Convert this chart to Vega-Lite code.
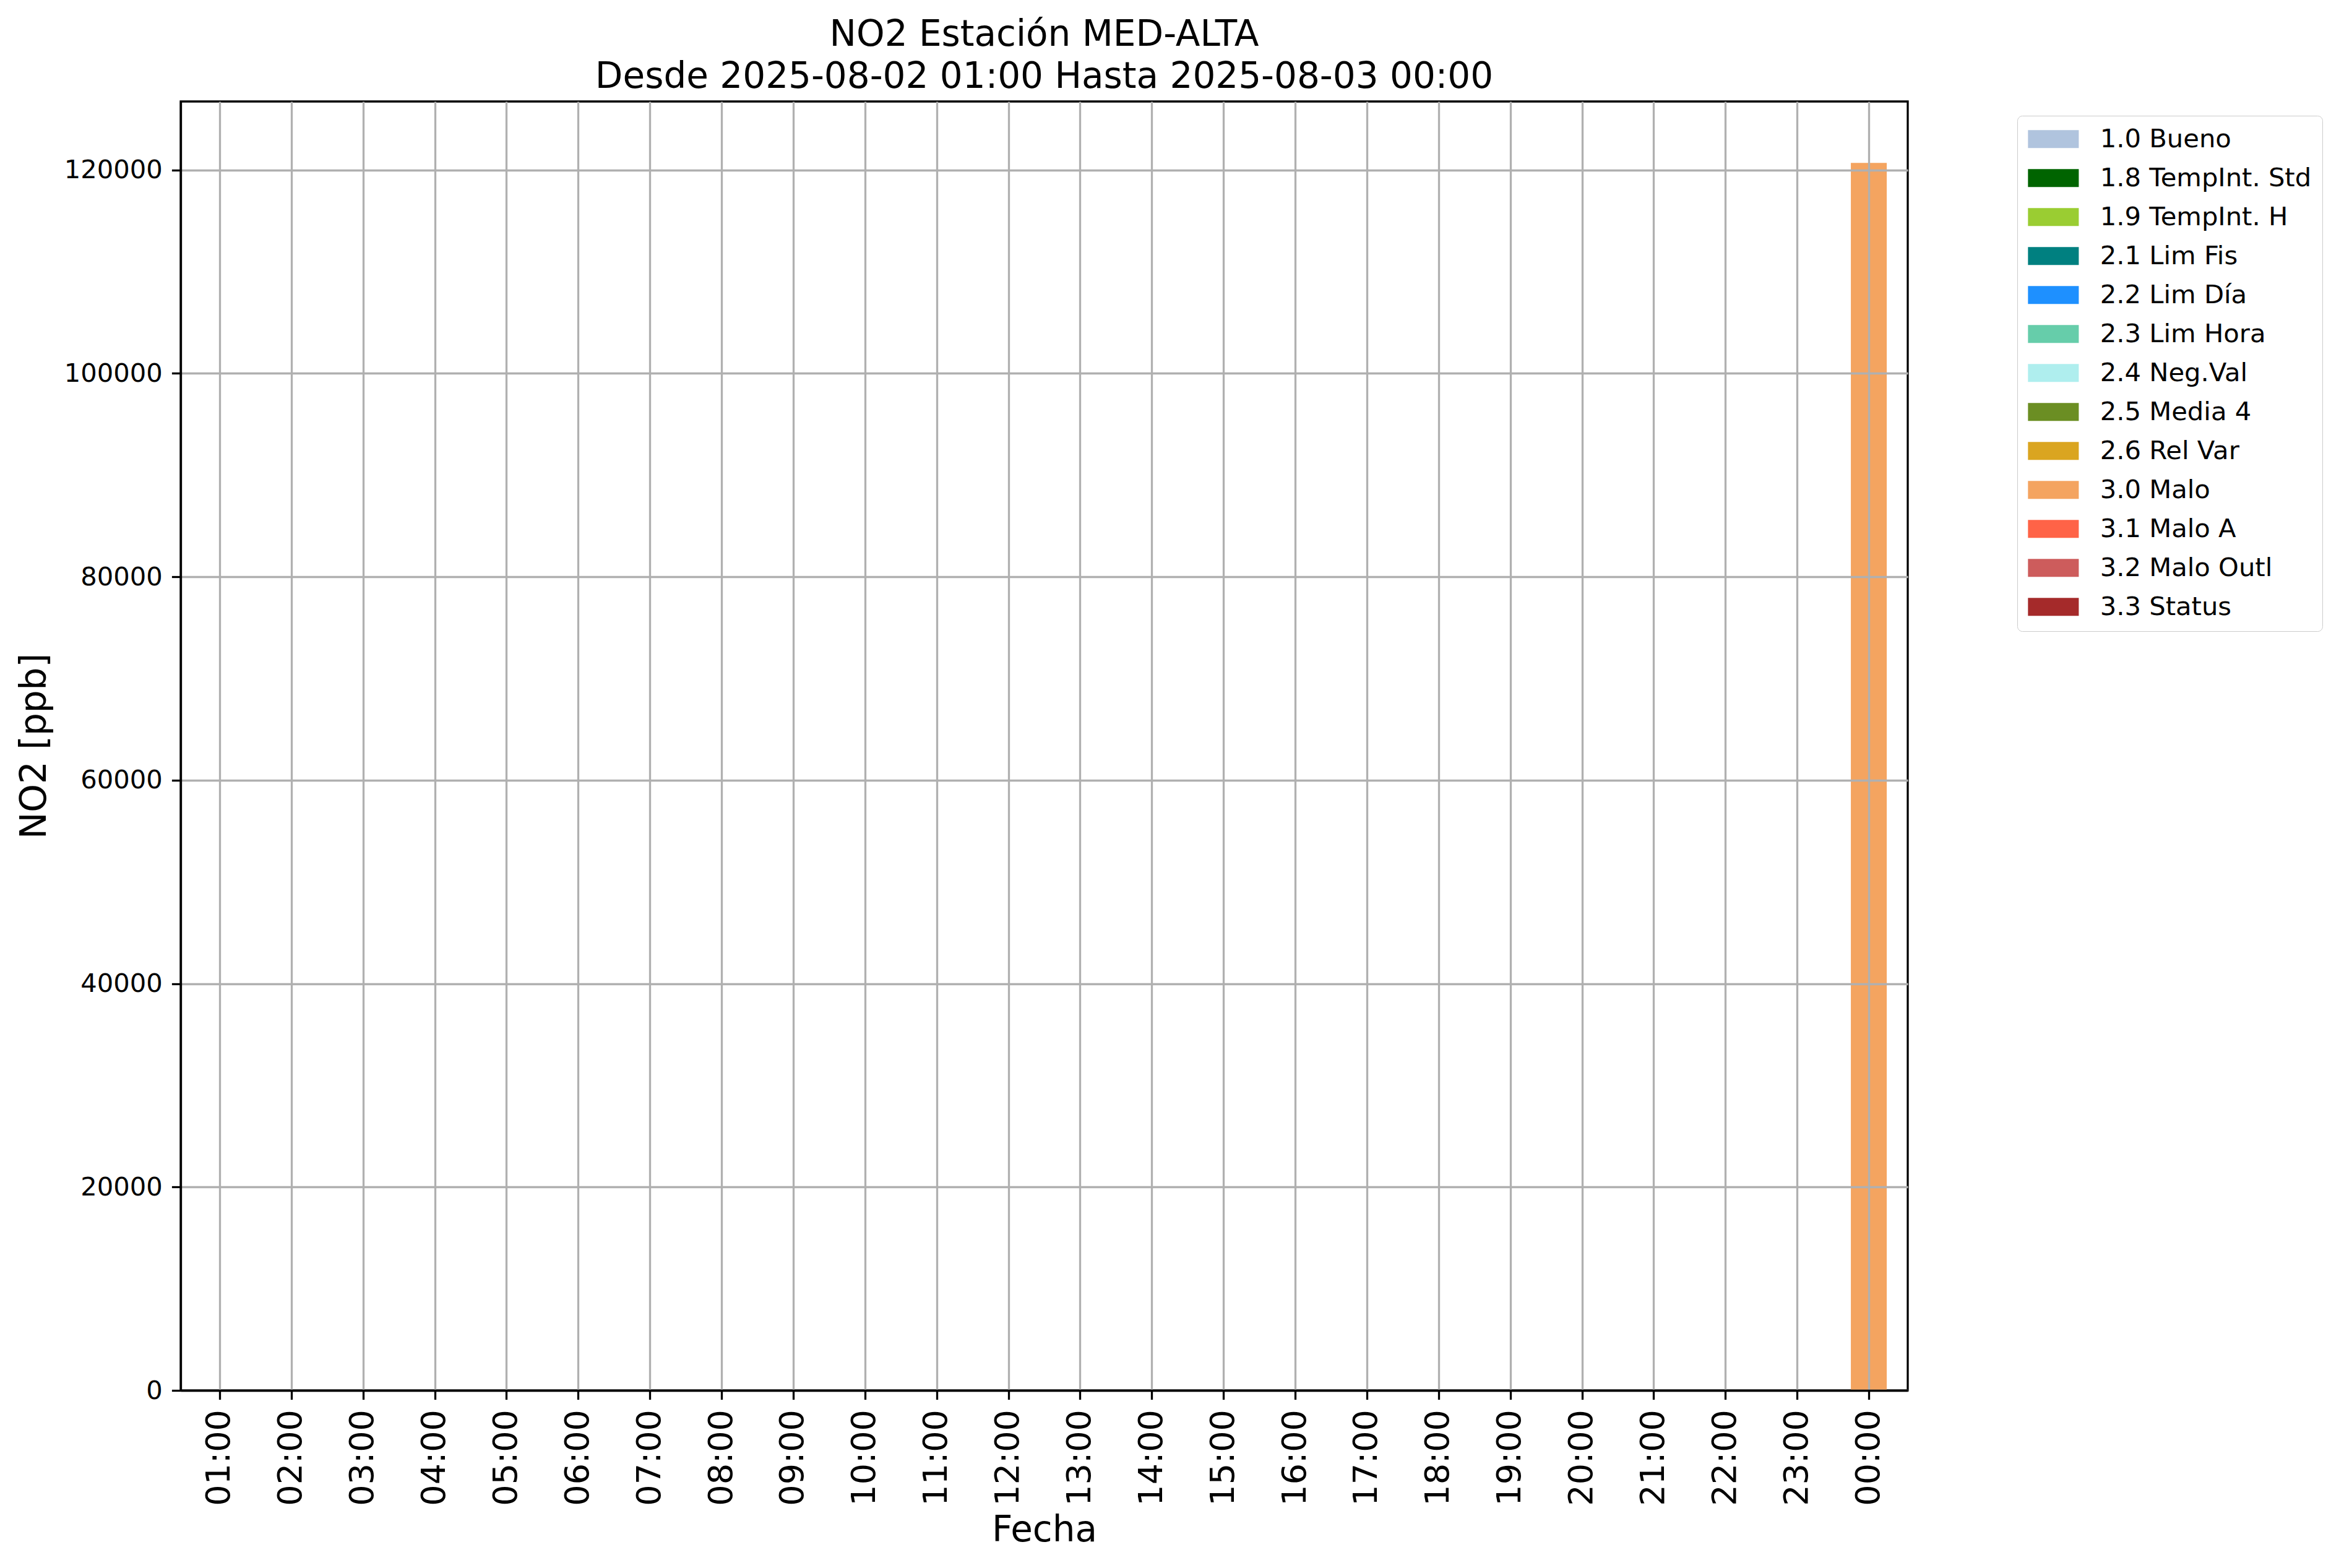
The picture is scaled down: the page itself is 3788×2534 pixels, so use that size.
{
  "$schema": "https://vega.github.io/schema/vega-lite/v6.json",
  "autosize": "none",
  "width": 2791,
  "height": 2083,
  "padding": {"left": 292, "top": 164, "right": 705, "bottom": 287},
  "background": "white",
  "title": {
    "text": ["NO2 Estación MED-ALTA", "Desde 2025-08-02 01:00 Hasta 2025-08-03 00:00"],
    "font": "DejaVu Sans",
    "fontSize": 58,
    "fontWeight": "normal",
    "color": "black",
    "lineHeight": 68,
    "anchor": "middle",
    "offset": 10
  },
  "data": {
    "values": [
      {"fecha": "2025-08-02T01:00:00", "valor": null, "flag": null},
      {"fecha": "2025-08-02T02:00:00", "valor": null, "flag": null},
      {"fecha": "2025-08-02T03:00:00", "valor": null, "flag": null},
      {"fecha": "2025-08-02T04:00:00", "valor": null, "flag": null},
      {"fecha": "2025-08-02T05:00:00", "valor": null, "flag": null},
      {"fecha": "2025-08-02T06:00:00", "valor": null, "flag": null},
      {"fecha": "2025-08-02T07:00:00", "valor": null, "flag": null},
      {"fecha": "2025-08-02T08:00:00", "valor": null, "flag": null},
      {"fecha": "2025-08-02T09:00:00", "valor": null, "flag": null},
      {"fecha": "2025-08-02T10:00:00", "valor": null, "flag": null},
      {"fecha": "2025-08-02T11:00:00", "valor": null, "flag": null},
      {"fecha": "2025-08-02T12:00:00", "valor": null, "flag": null},
      {"fecha": "2025-08-02T13:00:00", "valor": null, "flag": null},
      {"fecha": "2025-08-02T14:00:00", "valor": null, "flag": null},
      {"fecha": "2025-08-02T15:00:00", "valor": null, "flag": null},
      {"fecha": "2025-08-02T16:00:00", "valor": null, "flag": null},
      {"fecha": "2025-08-02T17:00:00", "valor": null, "flag": null},
      {"fecha": "2025-08-02T18:00:00", "valor": null, "flag": null},
      {"fecha": "2025-08-02T19:00:00", "valor": null, "flag": null},
      {"fecha": "2025-08-02T20:00:00", "valor": null, "flag": null},
      {"fecha": "2025-08-02T21:00:00", "valor": null, "flag": null},
      {"fecha": "2025-08-02T22:00:00", "valor": null, "flag": null},
      {"fecha": "2025-08-02T23:00:00", "valor": null, "flag": null},
      {"fecha": "2025-08-03T00:00:00", "valor": 120700, "flag": "3.0 Malo"}
    ]
  },
  "mark": {"type": "bar", "size": 58},
  "encoding": {
    "x": {
      "field": "fecha",
      "type": "temporal",
      "scale": {"domain": [{"year": 2025, "month": 8, "date": 2, "hours": 0, "minutes": 30}, {"year": 2025, "month": 8, "date": 3, "hours": 0, "minutes": 30}], "nice": false},
      "axis": {
        "title": "Fecha",
        "format": "%H:%M",
        "tickCount": 24,
        "labelAngle": -90,
        "labelAlign": "right",
        "labelBaseline": "middle",
        "labelFontSize": 54,
        "labelPadding": 16,
        "labelOverlap": false,
        "labelFlush": false,
        "titlePadding": 11,
        "zindex": 1
      }
    },
    "y": {
      "field": "valor",
      "type": "quantitative",
      "scale": {"domain": [0, 126735], "nice": false},
      "axis": {
        "title": "NO2 [ppb]",
        "tickCount": 7,
        "format": "d",
        "labelFontSize": 41.7,
        "labelPadding": 15,
        "titlePadding": 18,
        "zindex": 1
      }
    },
    "color": {
      "field": "flag",
      "type": "nominal",
      "scale": {
        "domain": ["1.0 Bueno", "1.8 TempInt. Std", "1.9 TempInt. H", "2.1 Lim Fis", "2.2 Lim Día", "2.3 Lim Hora", "2.4 Neg.Val", "2.5 Media 4", "2.6 Rel Var", "3.0 Malo", "3.1 Malo A", "3.2 Malo Outl", "3.3 Status"],
        "range": ["#B0C4DE", "#006400", "#9ACD32", "#008080", "#1E90FF", "#66CDAA", "#AFEEEE", "#6B8E23", "#DAA520", "#F4A460", "#FF6347", "#CD5C5C", "#A52A2A"]
      },
      "legend": {
        "title": null,
        "orient": "none",
        "legendX": 2968,
        "legendY": 23,
        "direction": "vertical",
        "padding": 17,
        "symbolType": "M-2.83,-1H2.83V1H-2.83Z",
        "symbolSize": 841,
        "symbolOffset": 20.5,
        "symbolStrokeWidth": 0,
        "symbolOpacity": 1,
        "labelOffset": 54.5,
        "labelFontSize": 41.7,
        "labelColor": "black",
        "labelLimit": 1000,
        "rowPadding": 20,
        "strokeColor": "#cccccc",
        "cornerRadius": 8,
        "fillColor": "white"
      }
    }
  },
  "config": {
    "font": "DejaVu Sans",
    "view": {"stroke": "black", "strokeWidth": 3.3},
    "axis": {
      "labelColor": "black",
      "titleColor": "black",
      "titleFontSize": 58,
      "titleFontWeight": "normal",
      "domainColor": "black",
      "domainWidth": 3.3,
      "tickColor": "black",
      "tickWidth": 3.3,
      "tickSize": 14.6,
      "gridColor": "#b0b0b0",
      "gridWidth": 3.3
    }
  }
}
